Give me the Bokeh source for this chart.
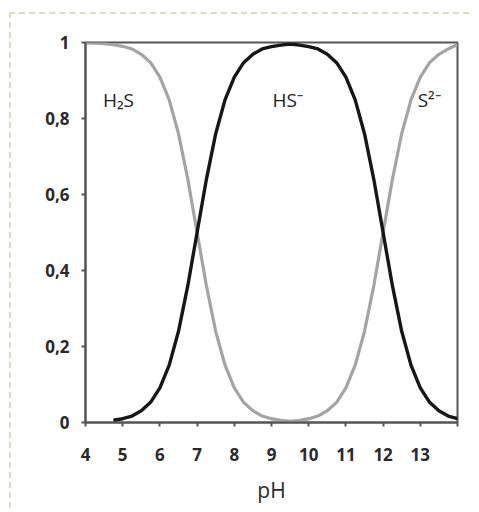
from bokeh.plotting import figure
from bokeh.models import FixedTicker, ColumnDataSource
from bokeh.core.properties import value
from bokeh.embed import file_html
from bokeh.resources import INLINE

# pH values and species fractions
ph_h2s = [4.0, 4.25, 4.5, 4.75, 5.0, 5.25, 5.5, 5.75, 6.0, 6.25, 6.5, 6.75, 7.0,
          7.25, 7.5, 7.75, 8.0, 8.25, 8.5, 8.75, 9.0, 9.25, 9.5, 9.75, 10.0]
frac_h2s = [0.999, 0.998, 0.997, 0.994, 0.990, 0.983, 0.969, 0.947, 0.909, 0.849, 0.760, 0.640, 0.500,
            0.360, 0.240, 0.151, 0.091, 0.053, 0.031, 0.017, 0.010, 0.006, 0.003, 0.002, 0.001]

ph_hs = [4.75, 5.0, 5.25, 5.5, 5.75, 6.0, 6.25, 6.5, 6.75, 7.0, 7.25, 7.5, 7.75, 8.0,
         8.25, 8.5, 8.75, 9.0, 9.25, 9.5, 9.75, 10.0, 10.25, 10.5, 10.75, 11.0, 11.25,
         11.5, 11.75, 12.0, 12.25, 12.5, 12.75, 13.0, 13.25, 13.5, 13.75, 14.0]
frac_hs = [0.006, 0.010, 0.017, 0.031, 0.053, 0.091, 0.151, 0.240, 0.360, 0.500, 0.640, 0.760, 0.849, 0.909,
           0.947, 0.969, 0.983, 0.989, 0.993, 0.996, 0.993, 0.989, 0.983, 0.969, 0.947, 0.909, 0.849,
           0.760, 0.640, 0.500, 0.360, 0.240, 0.151, 0.091, 0.053, 0.031, 0.017, 0.010]

ph_s2 = [9.0, 9.25, 9.5, 9.75, 10.0, 10.25, 10.5, 10.75, 11.0, 11.25, 11.5, 11.75, 12.0,
         12.25, 12.5, 12.75, 13.0, 13.25, 13.5, 13.75, 14.0]
frac_s2 = [0.001, 0.002, 0.003, 0.006, 0.010, 0.017, 0.031, 0.053, 0.091, 0.151, 0.240, 0.360, 0.500,
           0.640, 0.760, 0.849, 0.909, 0.947, 0.969, 0.983, 0.995]

x_ticks = [4, 5, 6, 7, 8, 9, 10, 11, 12, 13, 14]
x_tick_labels = ["4", "5", "6", "7", "8", "9", "10", "11", "12", "13", ""]
y_ticks = [0, 0.2, 0.4, 0.6, 0.8, 1]
y_tick_labels = ["0", "0,2", "0,4", "0,6", "0,8", "1"]

species_labels = ["H₂S", "HS⁻", "S²⁻"]
label_x = [4.47, 9.03, 12.93]
label_y = [0.85, 0.85, 0.85]

FONT = "Open Sans"
GRAY = "#a4a4a4"
DARK = "#161616"
AXIS = "#555555"

p = figure(width=460, height=496, x_range=(4, 14), y_range=(0, 1),
           output_backend="svg", toolbar_location=None,
           min_border_left=74, min_border_right=14, min_border_top=28, min_border_bottom=88)
p.styles = {"border-top": "2px dashed #dcdcc6", "border-left": "2px dashed #dcdcc6",
            "margin-top": "12px", "margin-left": "9px"}

p.line(ph_h2s, frac_h2s, line_color=GRAY, line_width=3.2)
p.line(ph_s2, frac_s2, line_color=GRAY, line_width=3.2)
p.line(ph_hs, frac_hs, line_color=DARK, line_width=3.4)

src = ColumnDataSource(dict(x=label_x, y=label_y, t=species_labels))
p.text("x", "y", text="t", source=src, text_font=value(FONT), text_font_size="19px",
       text_color="#222222", text_baseline="middle", text_align="left")

p.grid.visible = False
p.outline_line_color = AXIS
p.outline_line_width = 2
p.background_fill_color = "white"
p.border_fill_color = "white"

p.xaxis.ticker = FixedTicker(ticks=x_ticks)
p.xaxis.major_label_overrides = {t: l for t, l in zip(x_ticks, x_tick_labels)}
p.yaxis.ticker = FixedTicker(ticks=y_ticks)
p.yaxis.major_label_overrides = {t: l for t, l in zip(y_ticks, y_tick_labels)}

for ax in (p.xaxis, p.yaxis):
    ax.axis_line_color = AXIS
    ax.axis_line_width = 2
    ax.major_tick_line_color = AXIS
    ax.major_tick_line_width = 2
    ax.major_tick_out = 4
    ax.major_tick_in = 0
    ax.minor_tick_line_color = None
    ax.major_label_text_font = FONT
    ax.major_label_text_font_size = "17px"
    ax.major_label_text_font_style = "bold"
    ax.major_label_text_color = "#2a2a2a"

p.xaxis.major_label_standoff = 21
p.yaxis.major_label_standoff = 12
p.xaxis.axis_label = "pH"
p.xaxis.axis_label_text_font = FONT
p.xaxis.axis_label_text_font_size = "21px"
p.xaxis.axis_label_text_font_style = "normal"
p.xaxis.axis_label_text_color = "#2a2a2a"
p.xaxis.axis_label_standoff = 12

open("out.html", "w").write(file_html(p, INLINE))
